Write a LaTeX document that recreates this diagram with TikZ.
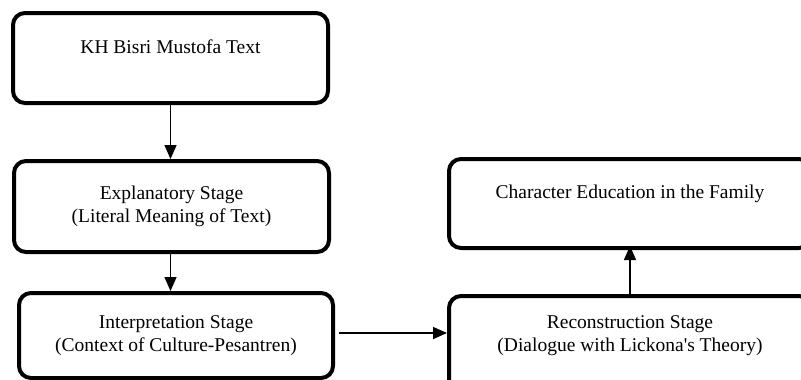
\documentclass[tikz,border=0pt]{standalone}
\usepackage{fontspec}
\setmainfont{Liberation Serif}
\usetikzlibrary{arrows.meta}
\begin{document}
\begin{tikzpicture}[x=1pt,y=-1pt,
  box/.style={draw=black,line width=4pt,rounded corners=12pt,inner sep=0pt,
    align=center,font=\fontsize{19.5}{23}\selectfont},
  txt/.style={inner sep=0pt,align=center,font=\fontsize{19.5}{23}\selectfont},
  conn/.style={line width=1.4pt,-{Triangle[length=14pt,width=12pt]}}]
\useasboundingbox (0,0) rectangle (801,380);
\clip (0,0) rectangle (801,380);
\node[box,minimum width=315pt,minimum height=90pt] (b1) at (170.5,58) {KH Bisri Mustofa Text\\\mbox{}};
\node[box,minimum width=315pt,minimum height=91pt] (b2) at (171.5,206.5) {Explanatory Stage\\(Literal Meaning of Text)};
\node[box,minimum width=314pt,minimum height=85pt] (b3) at (176,335.5) {Interpretation Stage\\(Context of Culture-Pesantren)};
\node[box,minimum width=362pt,minimum height=100pt] (b4) at (630,346) {};
\node[txt] (t4) at (630,335.5) {Reconstruction Stage\\(Dialogue with Lickona\textquotesingle s Theory)};
\node[box,minimum width=362pt,minimum height=89pt] (b5) at (630,203.5) {Character Education in the Family\\\mbox{}};
\draw[conn] (b1.south) -- (b1.south |- b2.north);
\draw[conn] (b1.south |- b2.south) -- (b1.south |- b3.north);
\draw[conn] ([xshift=4pt,yshift=2.5pt]b3.east) -- ([yshift=2.5pt]b3.east -| b4.west);
\draw[conn] (b4.north) -- ([yshift=4pt]b4.north |- b5.south);
\end{tikzpicture}
\end{document}
